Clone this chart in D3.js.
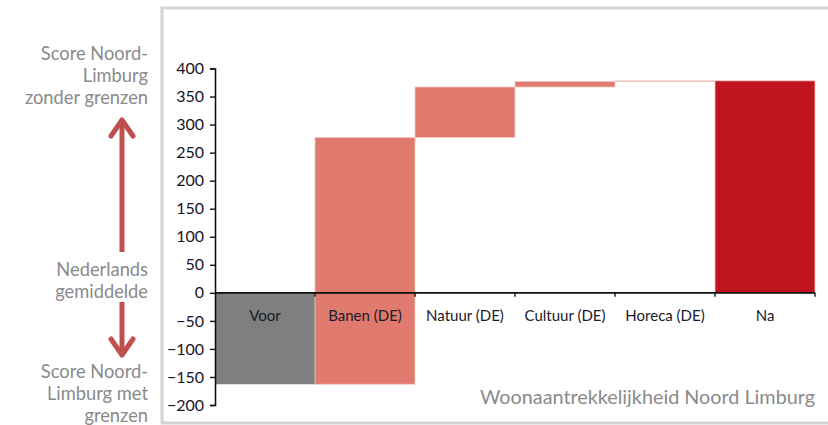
<!DOCTYPE html>
<html>
<head>
<meta charset="utf-8">
<script src="https://cdn.jsdelivr.net/npm/d3@7"></script>
<style>
  body { margin: 0; background: #fff; }
  text { font-family: Lato, "Open Sans", sans-serif; }
</style>
</head>
<body>
<script>
// waterfall data
var categories = ["Voor", "Banen (DE)", "Natuur (DE)", "Cultuur (DE)", "Horeca (DE)", "Na"];
var steps = [-163, 440, 90, 10, 1, 378];
var kinds = ["total", "delta", "delta", "delta", "delta", "total"];
var yTicks = [-200, -150, -100, -50, 0, 50, 100, 150, 200, 250, 300, 350, 400];

var topNote = ["Score Noord-", "Limburg", "zonder grenzen"];
var midNote = ["Nederlands", "gemiddelde"];
var lowNote = ["Score Noord-", "Limburg met", "grenzen"];
var caption = "Woonaantrekkelijkheid Noord Limburg";

// build bar extents
var running = 0;
var bars = categories.map(function(c, i) {
    var lo, hi;
    if (kinds[i] == "total") { lo = 0; hi = steps[i]; running = steps[i]; }
    else { lo = running; hi = running + steps[i]; running = hi; }
    return {cat: c, lo: Math.min(lo, hi), hi: Math.max(lo, hi), kind: kinds[i], idx: i};
});

var svg = d3.select("body").append("svg")
    .attr("width", 828)
    .attr("height", 425);

// frame
svg.append("rect")
    .attr("x", 162).attr("y", 8)
    .attr("width", 720).attr("height", 415)
    .attr("fill", "#fff")
    .attr("stroke", "#d4d4d4")
    .attr("stroke-width", 3);

var x = d3.scaleBand().domain(categories).range([215, 815]).padding(0);
var y = d3.scaleLinear().domain([-200, 400]).range([405, 68.5]);

function barColor(d) {
    if (d.idx == 0) return "#7f7f7f";
    if (d.idx == categories.length - 1) return "#c0141e";
    return "#e07a6e";
}

svg.selectAll("rect.bar")
    .data(bars)
    .enter().append("rect")
    .attr("class", "bar")
    .attr("x", function(d) { return x(d.cat); })
    .attr("width", x.bandwidth())
    .attr("y", function(d) { return y(d.hi); })
    .attr("height", function(d) { return Math.max(0.6, y(d.lo) - y(d.hi)); })
    .attr("fill", barColor)
    .attr("stroke", function(d) { return d.idx == 0 ? "none" : "#f4c9c3"; })
    .attr("stroke-width", 0.8);

// y axis
var yAxis = svg.append("g")
    .attr("transform", "translate(215,0)")
    .call(d3.axisLeft(y).tickValues(yTicks).tickSize(5).tickSizeOuter(5).tickPadding(6));
yAxis.select(".domain").attr("stroke", "#111").attr("stroke-width", 1.6);
yAxis.selectAll(".tick line").attr("stroke", "#111").attr("stroke-width", 1.4);
yAxis.selectAll(".tick text")
    .attr("fill", "#141428")
    .style("font-family", "Lato, sans-serif")
    .style("font-size", "16px");

// x axis line at zero with ticks between categories
var y0 = y(0);
svg.append("line")
    .attr("x1", 215).attr("x2", 815)
    .attr("y1", y0).attr("y2", y0)
    .attr("stroke", "#111").attr("stroke-width", 1.6);
var bounds = categories.map(function(c) { return x(c) + x.bandwidth(); });
svg.selectAll("line.xtick")
    .data(bounds)
    .enter().append("line")
    .attr("class", "xtick")
    .attr("x1", function(d) { return d; }).attr("x2", function(d) { return d; })
    .attr("y1", y0).attr("y2", y0 + 4)
    .attr("stroke", "#111").attr("stroke-width", 1.4);

svg.selectAll("text.cat")
    .data(categories)
    .enter().append("text")
    .attr("class", "cat")
    .attr("x", function(d) { return x(d) + x.bandwidth() / 2; })
    .attr("y", y0 + 28)
    .attr("text-anchor", "middle")
    .attr("fill", "#1a1a2a")
    .style("font-size", "15px")
    .text(function(d) { return d; });

// caption
svg.append("text")
    .attr("x", 815).attr("y", 404)
    .attr("text-anchor", "end")
    .attr("fill", "#8a8a8a")
    .style("font-size", "19.8px")
    .text(caption);

// left notes
function note(lines, baseY) {
    svg.append("g").selectAll("text")
        .data(lines)
        .enter().append("text")
        .attr("x", 148)
        .attr("y", function(d, i) { return baseY + i * 22; })
        .attr("text-anchor", "end")
        .attr("fill", "#8a8a8a")
        .style("font-size", "18.3px")
        .text(function(d) { return d; });
}
note(topNote, 60);
note(midNote, 276);
note(lowNote, 378);

// arrows
var red = "#c0504d";
svg.append("line").attr("x1", 122).attr("x2", 122).attr("y1", 252).attr("y2", 121)
    .attr("stroke", red).attr("stroke-width", 5);
svg.append("path").attr("d", "M111,136 L122,120 L133,136")
    .attr("fill", "none").attr("stroke", red).attr("stroke-width", 5)
    .attr("stroke-linecap", "round").attr("stroke-linejoin", "round");
svg.append("line").attr("x1", 122).attr("x2", 122).attr("y1", 302).attr("y2", 354)
    .attr("stroke", red).attr("stroke-width", 5);
svg.append("path").attr("d", "M111,339 L122,355 L133,339")
    .attr("fill", "none").attr("stroke", red).attr("stroke-width", 5)
    .attr("stroke-linecap", "round").attr("stroke-linejoin", "round");
</script>
</body>
</html>
